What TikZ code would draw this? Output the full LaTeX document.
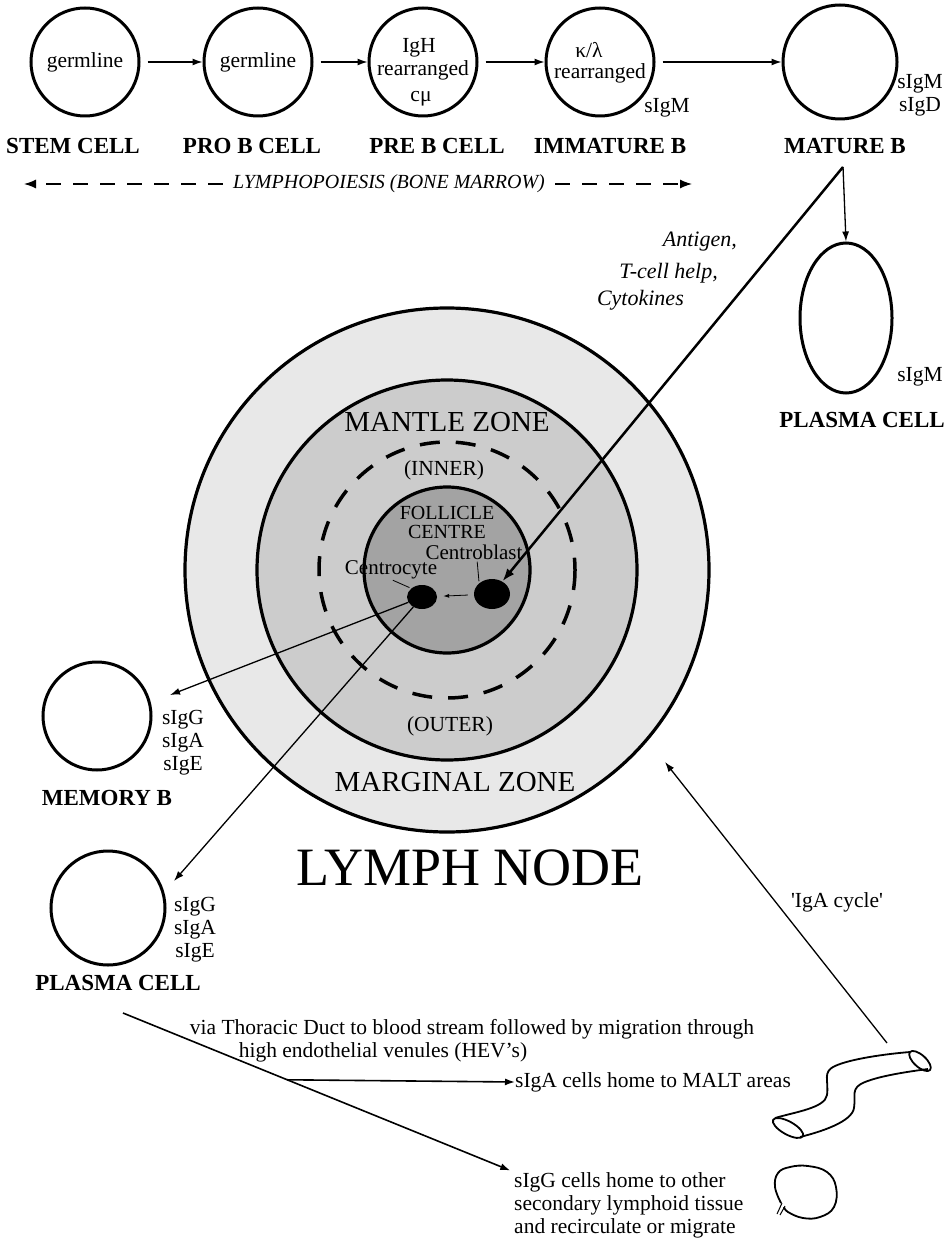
\documentclass[tikz,border=0pt]{standalone}
\usepackage{fontspec}
\setmainfont{Liberation Serif}
\usetikzlibrary{arrows.meta,shapes.geometric,calc,positioning}

\tikzset{
  cell/.style={circle, draw, line width=3pt, minimum size=108pt, inner sep=0pt,
    font=\fontsize{21.5}{21.5}\selectfont},
  stage/.style={font=\fontsize{23}{23}\selectfont\bfseries, inner sep=0pt},
  txt/.style={font=\fontsize{21.5}{23}\selectfont, inner sep=0pt, align=center},
  note/.style={font=\fontsize{22}{22}\selectfont\itshape, inner sep=0pt},
  zone/.style={font=\fontsize{29}{29}\selectfont, inner sep=0pt},
  arr/.style={-{Latex[length=10pt,width=7pt]}, line width=1.3pt},
  blob/.style={ellipse, fill=black, inner sep=0pt},
  ring/.style={line width=3.2pt},
  organ/.style={line width=1.8pt, line join=round}
}

\begin{document}
\begin{tikzpicture}[x=1pt, y=-1pt]
  \useasboundingbox (0,0) rectangle (951,1238);

  % draw cells of the bone marrow row
  \node[cell] (stem) at (85,62) {germline};
  \node[cell] (pro) at (258,62) {germline};
  \node[cell] (pre) at (423,62) {};
  \node[cell] (imm) at (600,62) {};
  \node[cell, minimum size=114pt] (mat) at (840,62) {};
  % draw texts in and beside the cells
  \node[txt] (igh) at (419,48) {IgH};
  \node[txt] (prere) at (423,70) {rearranged};
  \node[txt] (cmu) at (421,99) {cμ};
  \node[txt] (kl) at (589,50) {κ/λ};
  \node[txt] (immre) at (600,73) {rearranged};
  \node[txt] (immig) at (667,108) {sIgM};
  \node[txt] (matig) at (920,95) {sIgM\\sIgD};
  % draw arrows between cells
  \foreach \a/\b in {stem/pro, pro/pre, pre/imm, imm/mat}{
    \draw[arr, shorten <=7pt] (\a) -- (\b);
  }
  % draw stage names
  \foreach \x/\n/\t in {73/stemlbl/STEM CELL, 252/prolbl/PRO B CELL,
      437/prelbl/PRE B CELL, 610/immlbl/IMMATURE B, 845/matlbl/MATURE B}{
    \node[stage] (\n) at (\x,146) {\t};
  }
  % draw lymphopoiesis span
  \node[font=\fontsize{20}{20}\selectfont\itshape, inner sep=0pt] (bm) at (389,184)
    {LYMPHOPOIESIS (BONE MARROW)};
  \coordinate (bmleft) at (24,184);
  \coordinate (bmright) at (692,184);
  \draw[-{Latex[length=12pt,width=9pt]}, line width=1.3pt, dash pattern=on 15pt off 12pt,
    shorten <=10pt] (bm.west) -- (bmleft);
  \draw[-{Latex[length=12pt,width=9pt]}, line width=1.3pt, dash pattern=on 15pt off 12pt,
    shorten <=10pt] (bm.east) -- (bmright);

  % draw lymph node rings
  \coordinate (ln) at (447,570);
  \draw[ring, fill=black!9] (ln) circle[radius=262];
  \draw[ring, fill=black!20] (ln) circle[radius=190];
  \draw[line width=3.5pt, dash pattern=on 20pt off 16pt] (ln) circle[radius=128];
  \draw[ring, fill=black!36] (ln) circle[radius=83];
  % draw zone names
  \node[zone] (mantle) at (447,422) {MANTLE ZONE};
  \node[zone] (marginal) at (455,782) {MARGINAL ZONE};
  \node[txt] (inner) at (444,470) {(INNER)};
  \node[txt] (outer) at (450,726) {(OUTER)};
  \node[font=\fontsize{20}{19}\selectfont, inner sep=0pt, align=center] (follicle)
    at (447,522) {FOLLICLE\\CENTRE};
  \node[font=\fontsize{21}{21}\selectfont, inner sep=0pt] (cblastlbl) at (474,552) {Centroblast};
  \node[font=\fontsize{21}{21}\selectfont, inner sep=0pt] (ccytelbl) at (391,570) {Centrocyte};
  % draw centroblast and centrocyte
  \node[blob, minimum width=30pt, minimum height=24pt] (ccyte) at (422,597) {};
  \node[blob, minimum width=36pt, minimum height=30pt] (cblast) at (492,594) {};
  \draw[line width=0.8pt, shorten <=2pt, shorten >=2pt] ([xshift=3pt]cblastlbl.south) -- (cblast.north west);
  \draw[line width=0.8pt, shorten <=2pt, shorten >=2pt] (ccytelbl.south) -- (ccyte.north west);
  \draw[-{Latex[length=6pt,width=4pt]}, line width=0.8pt, shorten <=6pt, shorten >=6pt]
    (cblast) -- (ccyte);
  \node[font=\fontsize{54}{54}\selectfont, inner sep=0pt] (lymph) at (470,868) {LYMPH NODE};

  % draw mature B to plasma cell and follicle
  \coordinate (apex) at (843,167);
  \node[ellipse, draw, line width=3pt, minimum width=92pt, minimum height=150pt,
    inner sep=0pt] (pcm) at (846,318) {};
  \node[txt] (pcmig) at (920,377) {sIgM};
  \node[stage] (pcmlbl) at (862,420) {PLASMA CELL};
  \draw[arr] (apex) -- (pcm.north);
  \draw[line width=2.5pt, -{Latex[length=13pt,width=9pt]}] (apex) -- (cblast);
  \node[note, anchor=east] (ag1) at (737,242) {Antigen,};
  \node[note, anchor=east] (ag2) at (718,273) {T-cell help,};
  \node[note, anchor=east] (ag3) at (684,300) {Cytokines};

  % draw memory B and plasma cell
  \node[cell] (memb) at (97,716) {};
  \node[txt] (membig) at (183,743) {sIgG\\sIgA\\sIgE};
  \node[stage] (memblbl) at (107,798) {MEMORY B};
  \node[cell, minimum size=114pt] (pcl) at (108,908) {};
  \node[txt] (pclig) at (195,930) {sIgG\\sIgA\\sIgE};
  \node[stage] (pcllbl) at (118,983) {PLASMA CELL};
  \coordinate (memtip) at (170,695);
  \coordinate (pcltip) at (174,881);
  \draw[arr] (ccyte) -- (memtip);
  \draw[arr] (ccyte) -- (pcltip);

  % draw homing routes
  \coordinate (duct) at (123,1013);
  \node[txt] (via1) at (472,1029) {via Thoracic Duct to blood stream followed by migration through};
  \node[txt] (via2) at (383,1052) {high endothelial venules (HEV's)};
  \node[txt, anchor=west] (malt) at (515,1082) {sIgA cells home to MALT areas};
  \node[txt, anchor=north west, align=left] (igg) at (514,1172)
    {sIgG cells home to other\\secondary lymphoid tissue\\and recirculate or migrate};
  \draw[arr, line width=1.6pt, shorten >=4pt] (duct) -- (igg.north west);
  \coordinate (split) at ($(duct)!0.42!(igg.north west)$);
  \draw[arr, line width=1.6pt] (split) -- (malt.west);

  % draw gut tube
  \draw[organ] (775,1118) .. controls (795,1112) and (825,1108) .. (827,1095)
    .. controls (829,1080) and (822,1072) .. (835,1066)
    .. controls (850,1059) and (885,1054) .. (910,1052);
  \draw[organ] (800,1137) .. controls (820,1132) and (852,1122) .. (854,1108)
    .. controls (856,1095) and (850,1088) .. (865,1082)
    .. controls (880,1076) and (905,1072) .. (928,1069);
  \draw[organ] (920,1061) ellipse[x radius=13.5, y radius=6, rotate=-42];
  \draw[organ] (788,1128) ellipse[x radius=17, y radius=6.5, rotate=-29];
  % draw small lymphoid organ
  \draw[organ] plot[smooth, tension=0.7] coordinates {(781,1203) (775,1187) (778,1173)
    (790,1167) (808,1166) (827,1172) (836,1187) (834,1207) (820,1217) (803,1218)
    (788,1212) (784,1207)};
  \draw[line width=1pt] (777,1214) -- (782,1203);
  \draw[line width=1pt] (780,1215) -- (785,1206);

  % draw IgA cycle
  \coordinate (tubetop) at (887,1043);
  \coordinate (igatip) at (665,762);
  \draw[arr] (tubetop) -- (igatip);
  \node[txt] (igacyc) at (837,902) {\textquotesingle IgA cycle\textquotesingle};
\end{tikzpicture}
\end{document}
